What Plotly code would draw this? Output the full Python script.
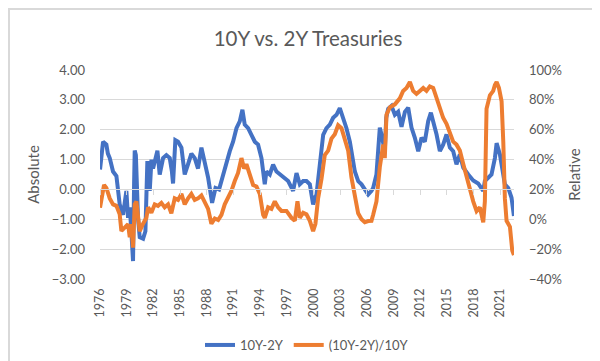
import pandas as pd
import plotly.graph_objects as go

# ---- data (fractional years) ----
blue_years = [1976.42, 1976.6, 1976.76, 1977.13, 1977.3, 1977.51, 1977.88, 1978.26, 1978.63, 1979.01,
              1979.2, 1979.38, 1979.57, 1979.76, 1979.94, 1980.13, 1980.25, 1980.32, 1980.45, 1980.55,
              1980.69, 1980.88, 1981.26, 1981.52, 1981.62, 1981.74, 1982.01, 1982.2, 1982.38, 1982.64,
              1982.87, 1983.13, 1983.51, 1983.88, 1984.26, 1984.5, 1984.63, 1984.89, 1985.19, 1985.57,
              1985.94, 1986.32, 1986.69, 1987.07, 1987.44, 1987.82, 1988.19, 1988.57, 1989.02, 1989.4,
              1989.8, 1990.26, 1990.63, 1991.01, 1991.38, 1991.76, 1992.13, 1992.43, 1992.69, 1993.07,
              1993.44, 1993.82, 1994.19, 1994.57, 1994.94, 1995.13, 1995.51, 1995.88, 1996.26, 1996.63,
              1997.01, 1997.57, 1998.13, 1998.51, 1998.88, 1999.26, 1999.63, 2000.01, 2000.38, 2000.76,
              2001.13, 2001.51, 2001.88, 2002.26, 2002.63, 2003.01, 2003.38, 2003.76, 2004.13, 2004.51,
              2004.8, 2005.07, 2005.45, 2005.82, 2006.19, 2006.57, 2006.94, 2007.13, 2007.5, 2007.88,
              2008.07, 2008.26, 2008.44, 2008.6, 2008.82, 2009.19, 2009.57, 2009.94, 2010.32, 2010.7,
              2011.07, 2011.44, 2011.82, 2012.2, 2012.57, 2012.94, 2013.32, 2013.62, 2013.88, 2014.26,
              2014.63, 2015.0, 2015.38, 2015.76, 2016.13, 2016.5, 2016.88, 2017.26, 2017.82, 2018.38,
              2018.94, 2019.32, 2019.51, 2019.69, 2020.07, 2020.44, 2020.82, 2021.01, 2021.38, 2021.64,
              2021.94, 2022.32, 2022.69, 2022.96]
spread_abs = [0.67, 1.3, 1.6, 1.5, 1.2, 1.05, 0.6, 0.45, -0.5, -0.85,
              -0.3, -0.05, -0.95, -0.6, -1.4, -2.4, 0.2, 1.3, 1.15, 0.3,
              -0.95, -1.6, -1.65, -1.4, 0.0, 0.95, -0.05, 1.0, 0.7, 1.05,
              1.3, 0.5, 1.05, 1.15, 1.05, 0.6, 0.2, 1.65, 1.6, 1.4,
              0.5, 0.85, 1.2, 1.05, 0.7, 1.4, 0.95, 0.4, -0.45, 0.05,
              0.0, 0.5, 0.95, 1.28, 1.6, 2.05, 2.28, 2.67, 2.17, 2.05,
              1.83, 1.6, 1.5, 1.05, 0.17, 0.6, 0.5, 0.83, 0.6, 0.5,
              0.4, 0.28, -0.05, 0.55, 0.17, 0.28, 0.28, 0.17, -0.5, -0.17,
              0.83, 1.83, 2.05, 2.17, 2.4, 2.5, 2.72, 2.4, 2.05, 1.6,
              1.05, 0.6, 0.28, 0.17, 0.0, -0.17, -0.05, 0.05, 0.5, 2.07,
              1.84, 1.5, 1.28, 2.4, 2.7, 2.8, 2.5, 2.6, 2.1, 2.6,
              2.74, 2.07, 1.73, 1.28, 1.73, 1.6, 2.29, 2.57, 2.29, 1.84,
              1.28, 1.5, 1.84, 1.4, 1.28, 0.84, 1.17, 0.73, 0.5, 0.3,
              0.2, 0.05, -0.05, 0.28, 0.39, 0.5, 1.05, 1.55, 1.17, 0.61,
              0.17, 0.05, -0.28, -0.89]

orange_years = [1976.42, 1976.87, 1977.13, 1977.51, 1977.88, 1978.26, 1978.63, 1978.82, 1979.19, 1979.57,
                1979.76, 1979.94, 1980.13, 1980.32, 1980.51, 1980.69, 1980.88, 1981.26, 1981.63, 1981.82,
                1982.19, 1982.57, 1982.94, 1983.32, 1983.69, 1984.07, 1984.44, 1984.82, 1985.19, 1985.57,
                1985.94, 1986.32, 1986.69, 1987.07, 1987.44, 1987.82, 1988.19, 1988.57, 1988.94, 1989.32,
                1989.7, 1990.07, 1990.44, 1990.82, 1991.19, 1991.57, 1991.94, 1992.32, 1992.62, 1992.88,
                1993.26, 1993.63, 1994.01, 1994.38, 1994.76, 1994.94, 1995.32, 1995.69, 1996.07, 1996.44,
                1996.82, 1997.38, 1997.94, 1998.32, 1998.62, 1998.88, 1999.26, 1999.63, 2000.01, 2000.38,
                2000.64, 2000.94, 2001.32, 2001.69, 2002.07, 2002.44, 2002.82, 2003.19, 2003.57, 2003.94,
                2004.32, 2004.69, 2005.07, 2005.44, 2005.82, 2006.19, 2006.57, 2006.94, 2007.13, 2007.5,
                2007.88, 2008.07, 2008.26, 2008.44, 2008.63, 2009.0, 2009.57, 2010.13, 2010.5, 2010.88,
                2011.26, 2011.63, 2012.0, 2012.38, 2012.76, 2013.13, 2013.5, 2013.88, 2014.26, 2014.63,
                2015.0, 2015.38, 2015.76, 2016.13, 2016.5, 2016.88, 2017.26, 2017.63, 2018.0, 2018.38,
                2018.76, 2019.13, 2019.32, 2019.51, 2019.69, 2019.88, 2020.26, 2020.63, 2020.82, 2021.01,
                2021.27, 2021.57, 2021.76, 2021.94, 2022.13, 2022.51, 2022.77, 2022.96]
spread_rel_pct = [7.8, 23, 21, 14, 10, 9, 3.3, -7.8, -5.6, -3.3,
                  -12, -3.3, -19, 10, 12, 3, -8, -3, 1, 8,
                  4.4, 10, 9, 11, 8, 10, 4, 14, 13, 17,
                  10, 14, 17, 13, 14, 16, 12, 7, -3, 0.5,
                  -0.5, 3, 10, 14, 19, 25.6, 31, 41, 34, 37,
                  30, 23, 22, 17, 3, 1, 8, 7, 12, 8,
                  5.6, 5.6, 1, -1, 12, 1, 4.4, 3.3, -1, -8,
                  -3, 14, 27, 43, 46, 54, 57, 63, 61, 54,
                  46, 28, 15, 4, 0, -2, -1.2, -1, 3, 12,
                  35, 45, 50, 41, 70, 75, 77, 81, 86, 88,
                  92, 86, 84, 86, 88, 86, 89, 88, 81, 75,
                  68, 64, 57, 52, 50, 46, 37, 28, 21, 12,
                  5.5, 8, 3, -2, 12, 74, 83, 86, 90, 92,
                  88, 79, 52, 14, -1, -5, -21, -24]

series_names = ["10Y-2Y", "(10Y-2Y)/10Y"]
title_text = "10Y vs. 2Y Treasuries"
left_title = "Absolute"
right_title = "Relative"


def to_dates(years):
    out = []
    for y in years:
        base = pd.Timestamp(year=int(y), month=1, day=1)
        out.append(base + pd.Timedelta(days=(y - int(y)) * 365.25))
    return out


FONT = "Lato, 'Open Sans', sans-serif"
GREY = "#595959"
GRID = "#D9D9D9"

fig = go.Figure()
fig.add_trace(go.Scatter(x=to_dates(blue_years), y=spread_abs, name=series_names[0],
                         mode="lines", line=dict(color="#4472C4", width=4), yaxis="y"))
fig.add_trace(go.Scatter(x=to_dates(orange_years), y=spread_rel_pct, name=series_names[1],
                         mode="lines", line=dict(color="#ED7D31", width=4), yaxis="y2"))
# empty helper trace so the category axis line (crossing at 0.00) is drawn
fig.add_trace(go.Scatter(x=[], y=[], xaxis="x2", yaxis="y", showlegend=False, hoverinfo="skip"))

x_range = ["1976-06-01", "2022-12-20"]
W, H = 600, 361
L, R, T, B = 92, 94, 62, 90
pw, ph = W - L - R, H - T - B

fig.update_layout(
    width=W, height=H,
    margin=dict(l=L, r=R, t=T, b=B, autoexpand=False),
    paper_bgcolor="white", plot_bgcolor="white",
    font=dict(family=FONT, color=GREY, size=13),
    title=dict(text=title_text, x=0.5, xanchor="center", y=1 - 31 / H, yanchor="middle",
               font=dict(size=20.5, color=GREY, family=FONT)),
    xaxis=dict(type="date", range=x_range, tick0="1976-06-01", dtick="M36", tickformat="%Y",
               tickangle=-90, showgrid=False, zeroline=False, showline=False, ticks="",
               ticklabelstandoff=6, automargin=False, tickfont=dict(size=12.5, color=GREY)),
    xaxis2=dict(type="date", range=x_range, tick0="1976-06-01", dtick="M36", overlaying="x",
                anchor="free", position=3 / 7, showticklabels=False, showgrid=False, zeroline=False,
                showline=True, linecolor=GRID, linewidth=1, ticks="outside", ticklen=5,
                tickcolor=GRID, tickwidth=1, automargin=False),
    yaxis=dict(range=[-3, 4], dtick=1, tickformat=".2f", showgrid=True, gridcolor=GRID, gridwidth=1,
               zeroline=False, showline=False, ticks="", ticklabelstandoff=14, automargin=False,
               title=dict(text=left_title, font=dict(size=15, color=GREY), standoff=8),
               tickfont=dict(size=13, color=GREY)),
    yaxis2=dict(range=[-40, 100], dtick=20, ticksuffix="%", overlaying="y", side="right",
                showgrid=False, zeroline=False, showline=False, ticks="", ticklabelstandoff=14,
                automargin=False,
                title=dict(text=right_title, font=dict(size=15, color=GREY), standoff=8),
                tickfont=dict(size=13, color=GREY)),
    legend=dict(orientation="h", x=0.5, xanchor="center", y=(ph - (337 - T)) / ph, yanchor="middle",
                font=dict(size=13, color=GREY), bgcolor="rgba(0,0,0,0)"),
    showlegend=True,
)

# light grey frame around the whole chart
fig.add_shape(type="rect", xref="paper", yref="paper",
              x0=(1 - L) / pw, x1=(W - 1 - L) / pw,
              y0=(ph - (H - 1 - T)) / ph, y1=(ph - (1 - T)) / ph,
              line=dict(color="#D9D9D9", width=2), fillcolor="rgba(0,0,0,0)", layer="below")

fig.write_html("out.html")
